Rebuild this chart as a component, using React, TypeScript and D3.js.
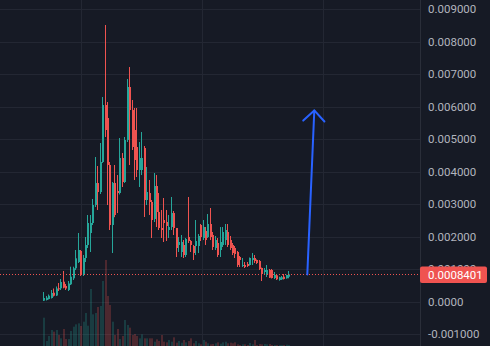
import React from "react";
import * as d3 from "d3";

const W = 490;
const H = 346;
const PLOT_RIGHT = 420;

// Candle OHLC values in micro-units (price = value × 1e-6)
const UNIT = 1e-6;
const openMicro = [
  31, 52, 83, 114, 277, 191, 412, 412, 615, 483,
  360, 535, 720, 1028, 1222, 1560, 852, 1345, 1745, 2114,
  2422, 2975, 3652, 3375, 4298, 6052, 5652, 4206, 2360, 3652,
  3406, 3345, 4421, 3683, 4975, 6606, 5898, 5283, 4760, 4052,
  4052, 4729, 3129, 3345, 3068, 2545, 3560, 2760, 2268, 2514,
  2452, 2206, 2298, 2729, 2268, 1745, 1529, 1745, 1437, 1991,
  1868, 1714, 1714, 1714, 2360, 1960, 2175, 1991, 2391, 2052,
  1652, 1806, 1591, 1745, 1898, 2145, 1898, 1745, 1652, 1529,
  1375, 1098, 1129, 1160, 1129, 1283, 1345, 1283, 1252, 1037,
  914, 852, 975, 975, 729, 812, 668, 689, 769, 720,
  769,
];
const closeMicro = [
  114, 123, 185, 268, 185, 406, 382, 606, 431, 406,
  560, 769, 1028, 1335, 1591, 843, 1345, 1745, 2422, 2422,
  2975, 3652, 3375, 4298, 6052, 5283, 4206, 2360, 3652, 2668,
  3345, 4421, 3683, 4975, 6606, 5898, 4760, 4360, 4052, 4421,
  4421, 3129, 3375, 3068, 2514, 3560, 2760, 2268, 2206, 2422,
  2329, 2298, 2729, 2268, 1652, 1837, 1837, 1437, 1929, 1868,
  1745, 1498, 1868, 2022, 1991, 2298, 1898, 2391, 1991, 1683,
  1898, 1437, 1837, 2145, 2206, 1745, 1652, 1498, 1468, 1129,
  1283, 1129, 1068, 1098, 1345, 1345, 1252, 1191, 1006, 852,
  975, 975, 738, 729, 822, 689, 751, 751, 698, 822,
  840.1,
];
const highMicro = [
  298, 175, 222, 360, 406, 468, 575, 698, 945, 545,
  637, 1077, 1077, 1591, 2114, 1591, 1437, 1991, 2668, 2668,
  3160, 4452, 4175, 4883, 6298, 8514, 6145, 4298, 3683, 4206,
  3898, 5037, 4575, 5068, 6852, 7221, 6206, 5960, 5960, 4914,
  5221, 4791, 4145, 3745, 3129, 3960, 3898, 3345, 2822, 3191,
  2822, 2668, 3222, 2791, 2268, 1991, 2052, 1898, 1960, 3222,
  1898, 1745, 2514, 2083, 2391, 2514, 2298, 2698, 2883, 2145,
  2022, 1960, 2298, 2298, 2391, 2391, 2022, 1806, 1714, 1560,
  1406, 1345, 1222, 1222, 1360, 1498, 1437, 1300, 1283, 1050,
  1037, 1129, 1006, 1006, 914, 852, 769, 791, 852, 831,
  945,
];
const lowMicro = [
  22, 37, 68, 98, 160, 175, 329, 360, 412, 360,
  329, 514, 668, 975, 1191, 791, 791, 1222, 1652, 1529,
  2360, 2914, 2822, 3314, 4268, 5068, 2975, 2206, 1498, 2600,
  2729, 3300, 3529, 3652, 4914, 4206, 4668, 3745, 3837, 3529,
  3898, 2606, 2975, 2668, 1960, 2452, 2298, 2206, 1960, 1837,
  1868, 1960, 2206, 2052, 1375, 1529, 1375, 1345, 1375, 1806,
  1529, 1283, 1437, 1498, 1868, 1898, 1745, 1960, 1898, 1591,
  1591, 1375, 1375, 1683, 1745, 1683, 1591, 1437, 1345, 1068,
  1068, 1068, 1037, 1068, 1110, 1129, 1191, 1160, 975, 637,
  822, 760, 729, 714, 698, 668, 646, 668, 683, 710,
  720,
];
// Relative volume per candle
const volume = [
  85, 15, 30, 48, 43, 48, 33, 23, 51, 21,
  21, 45, 58, 65, 68, 60, 73, 99, 61, 171,
  95, 99, 117, 120, 195, 258, 150, 123, 73, 33,
  51, 21, 30, 78, 63, 55, 33, 36, 30, 23,
  35, 23, 23, 23, 23, 13, 20, 15, 33, 13,
  11, 18, 13, 26, 10, 15, 10, 18, 11, 15,
  23, 8, 15, 8, 5, 18, 13, 8, 5, 6,
  8, 11, 7, 11, 13, 8, 10, 8, 11, 5,
  3, 5, 5, 3, 9, 5, 18, 3, 6, 5,
  6, 5, 6, 3, 3, 3, 3, 3, 3, 4,
  3,
];

const priceTicks = [-0.001, 0, 0.001, 0.002, 0.003, 0.004, 0.005, 0.006, 0.007, 0.008, 0.009];
const priceTickLabels = [
  "-0.001000", "0.0000", "0.001000", "0.002000", "0.003000", "0.004000",
  "0.005000", "0.006000", "0.007000", "0.008000", "0.009000",
];
const lastPrice = 0.0008401;
const lastPriceLabel = "0.0008401";
const timeGridIdx = [14.86, 64.25, 113.65];
const arrowFrom = { idx: 107.35, price: 0.00084 };
const arrowTo = { idx: 110.2, price: 0.005885 };

const BG = "#161a25";
const GRID = "#232733";
const UP = "#26a69a";
const DOWN = "#ef5350";
const TEXT = "#b2b5be";
const FONT = "Roboto, 'Noto Sans', sans-serif";

export default function App() {
  const n = openMicro.length;
  const x = d3.scaleLinear().domain([0, 100]).range([44.3, 289.3]);
  const y = d3.scaleLinear().domain([-0.001, 0.009]).range([334.2, 9.2]);
  const yVol = d3.scaleLinear().domain([0, 258]).range([346, 260]);

  const candles = d3.range(n).map((i) => ({
    i,
    o: openMicro[i] * UNIT,
    c: closeMicro[i] * UNIT,
    h: highMicro[i] * UNIT,
    l: lowMicro[i] * UNIT,
    v: volume[i],
  }));

  const ax0 = x(arrowFrom.idx), ay0 = y(arrowFrom.price);
  const ax1 = x(arrowTo.idx), ay1 = y(arrowTo.price);
  const ang = Math.atan2(ay0 - ay1, ax0 - ax1);
  const headLen = 15;
  const headA = Math.PI / 4;
  const hl = [ax1 + headLen * Math.cos(ang + headA), ay1 + headLen * Math.sin(ang + headA)];
  const hr = [ax1 + headLen * Math.cos(ang - headA), ay1 + headLen * Math.sin(ang - headA)];

  const yLast = y(lastPrice);

  return (
    <svg
      width={W}
      height={H}
      style={{ position: "fixed", left: 0, top: 0, display: "block", background: BG }}
    >
      <rect x={0} y={0} width={W} height={H} fill={BG} />
      {/* horizontal grid */}
      {priceTicks.map((t) => (
        <line key={"hg" + t} x1={0} x2={PLOT_RIGHT} y1={Math.round(y(t)) + 0.5} y2={Math.round(y(t)) + 0.5} stroke={GRID} strokeWidth={1} />
      ))}
      {/* vertical grid */}
      {timeGridIdx.map((t) => (
        <line key={"vg" + t} x1={Math.round(x(t)) + 0.5} x2={Math.round(x(t)) + 0.5} y1={0} y2={H} stroke={GRID} strokeWidth={1} />
      ))}
      {/* volume */}
      {candles.map((d) => (
        <rect
          key={"v" + d.i}
          x={Math.round(x(d.i)) - 0.5}
          y={yVol(d.v)}
          width={1}
          height={yVol(0) - yVol(d.v) + 4}
          fill={d.c >= d.o ? UP : DOWN}
          opacity={0.5}
        />
      ))}
      {/* candles */}
      {candles.map((d) => {
        const cx = x(d.i);
        const col = d.c >= d.o ? UP : DOWN;
        const top = y(Math.max(d.o, d.c));
        const bot = y(Math.min(d.o, d.c));
        const bx = Math.round(cx - 1);
        return (
          <g key={"c" + d.i}>
            <rect x={bx} y={y(d.h)} width={1} height={Math.max(1, y(d.l) - y(d.h))} fill={col} />
            <rect x={bx} y={top} width={2} height={Math.max(1, bot - top)} fill={col} />
          </g>
        );
      })}
      {/* last price line */}
      <line x1={0} x2={PLOT_RIGHT} y1={Math.round(yLast) + 0.5} y2={Math.round(yLast) + 0.5} stroke={DOWN} strokeWidth={1} strokeDasharray="1,2" />
      {/* arrow */}
      <g stroke="#2962ff" strokeWidth={2} fill="none" strokeLinecap="round" strokeLinejoin="round">
        <line x1={ax0} y1={ay0} x2={ax1} y2={ay1} />
        <polyline points={`${hl[0]},${hl[1]} ${ax1},${ay1} ${hr[0]},${hr[1]}`} />
      </g>
      {/* price axis */}
      <rect x={PLOT_RIGHT} y={0} width={W - PLOT_RIGHT} height={H} fill={BG} />
      <line x1={PLOT_RIGHT + 0.5} x2={PLOT_RIGHT + 0.5} y1={0} y2={H} stroke="#2a2e39" strokeWidth={1} />
      {priceTicks.map((t, k) => (
        <text key={"tl" + t} x={428} y={y(t)} dy="0.36em" fill={TEXT} fontFamily={FONT} fontSize={11.5}>
          {priceTickLabels[k]}
        </text>
      ))}
      <rect x={PLOT_RIGHT} y={yLast - 8} width={67} height={16.6} rx={2} fill={DOWN} />
      <text x={428} y={yLast} dy="0.36em" fill="#ffffff" fontFamily={FONT} fontSize={11.5}>
        {lastPriceLabel}
      </text>
    </svg>
  );
}
